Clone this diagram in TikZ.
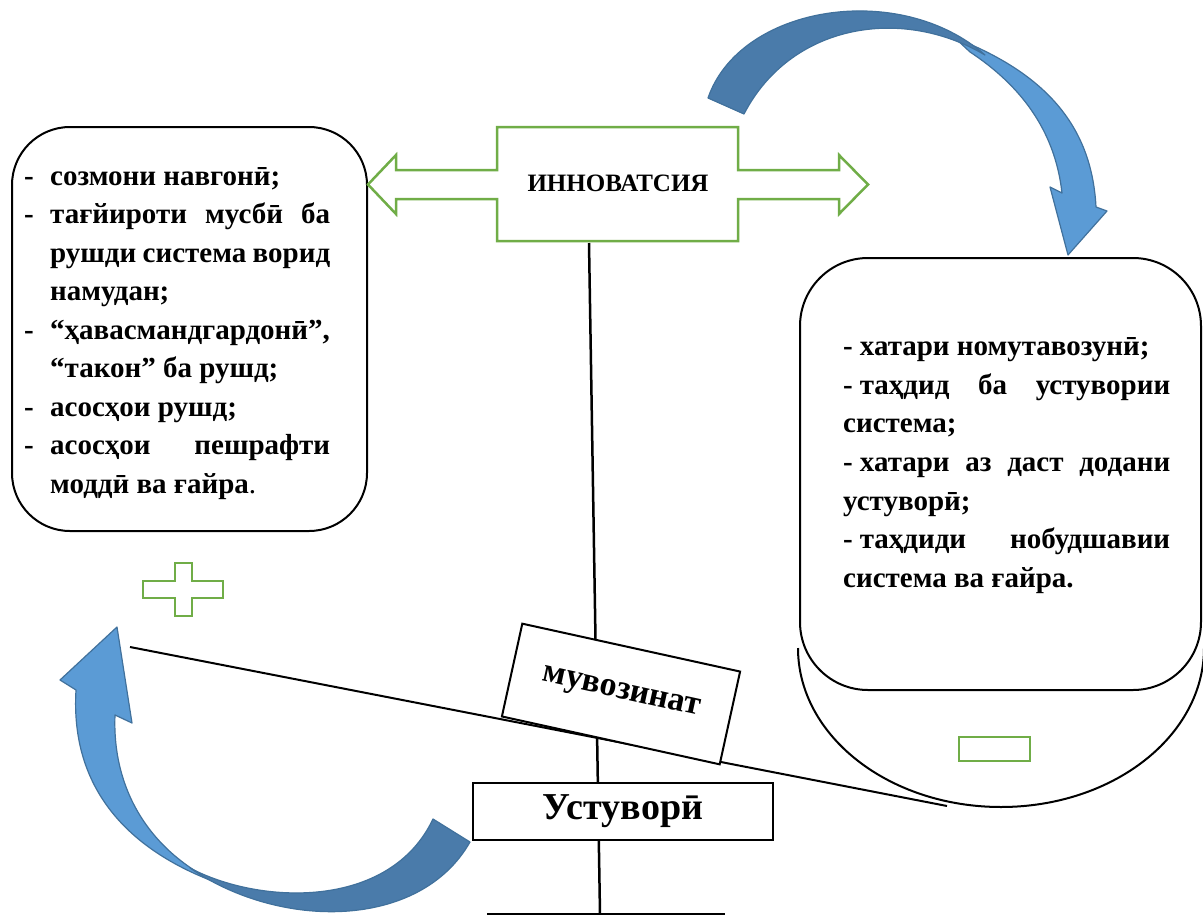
\documentclass[tikz,border=0pt]{standalone}
\usepackage{fontspec}
\setmainfont{Liberation Serif}
\definecolor{grn}{HTML}{70AD47}
\definecolor{lblue}{HTML}{5B9BD5}
\definecolor{dblue}{HTML}{4A7BAA}
\definecolor{bblue}{HTML}{41719C}
\newcommand\bodyfont{\fontsize{29}{38}\selectfont\bfseries}
\newcommand\innfont{\fontsize{25}{30}\selectfont\bfseries}
\newcommand\muvfont{\fontsize{34}{40}\selectfont\bfseries}
\newcommand\ustfont{\fontsize{38}{44}\selectfont\bfseries}
\newcommand\jl[2]{\makebox[#1][s]{#2}}
\newcommand\dsh{-\hspace{7pt}}
\begin{document}
\begin{tikzpicture}[x=1pt,y=-1pt,
  box/.style={draw=black, line width=2pt, fill=white},
  ln/.style={draw=black, line width=2pt},
  post/.style={draw=black, line width=2.5pt},
  grnshape/.style={draw=grn, line width=2.5pt, fill=white},
  light/.style={fill=lblue, draw=bblue, line width=1.2pt, line join=round},
  dark/.style={fill=dblue, draw=bblue, line width=1.2pt, line join=round},
  txt/.style={inner sep=0pt, anchor=base west, font=\bodyfont}]
\useasboundingbox (0,0) rectangle (1203,916);

% coordinates
\coordinate (posttop) at (589,243);
\coordinate (postbot) at (600,914);
\coordinate (baseL) at (487,914);
\coordinate (baseR) at (725,914);
\coordinate (leverL) at (130,647);
\coordinate (leverR) at (947,806);

% post and lever (behind the boxes)
\draw[post] (posttop) -- (postbot);
\draw[post] (baseL) -- (baseR);
\draw[ln] (leverL) -- (leverR);

% cup under the right box
\draw[ln] (798,648) .. controls (798,736) and (889,807) .. (1001,807)
  .. controls (1113,807) and (1204,736) .. (1204,648);

% rounded boxes
\node[box, rounded corners=58pt, minimum width=355pt, minimum height=404pt] (leftbox) at (189.5,329) {};
\node[box, rounded corners=68pt, minimum width=401pt, minimum height=432pt] (rightbox) at (1000.5,474) {};

% innovation double arrow
\draw[grnshape] (497,127) -- (738,127) -- (738,170) -- (839,170) -- (839,155) -- (868,184.5)
  -- (839,214) -- (839,199) -- (738,199) -- (738,241) -- (497,241) -- (497,199)
  -- (396,199) -- (396,214) -- (368,184.5) -- (396,155) -- (396,170) -- (497,170) -- cycle;
\node[inner sep=0pt, anchor=base, font=\innfont] (innov) at (618,191) {ИННОВАТСИЯ};

% plus and minus
\draw[grnshape] (175,563) -- (192,563) -- (192,581) -- (223,581) -- (223,598) -- (192,598)
  -- (192,616) -- (175,616) -- (175,598) -- (143,598) -- (143,581) -- (175,581) -- cycle;
\draw[grnshape] (959,737) rectangle (1030,761);

% balance boxes
\node[box, rotate=-12.4, minimum width=223pt, minimum height=95pt, font=\muvfont] (muv) at (621,694) {мувозинат};
\node[box, minimum width=300pt, minimum height=57pt, font=\ustfont] (ust) at (623,811.5) {Устуворӣ};

% top curved arrow
\draw[light] (955,38) .. controls (1050,75) and (1092,130) .. (1096,207) -- (1107,211) -- (1068,255)
  -- (1050,187) -- (1062,193) .. controls (1055,130) and (1020,85) .. (970,52) -- cycle;
\draw[dark] (708,98) .. controls (740,5) and (900,-20) .. (985,55)
  .. controls (900,5) and (790,25) .. (744,114) -- cycle;

% bottom-left curved arrow
\draw[light] (215,882) .. controls (130,850) and (70,790) .. (76,690) -- (60,680) -- (117,627)
  -- (132,723) -- (115,715) .. controls (112,790) and (150,850) .. (215,882) -- cycle;
\draw[dark] (470,842) .. controls (420,930) and (280,930) .. (190,868)
  .. controls (260,905) and (390,910) .. (433,819) -- cycle;

% left box text
\node[txt] (ld1) at (24,185) {-};
\node[txt] (l1) at (50,185) {созмони навгонӣ;};
\node[txt] (ld2) at (24,223.5) {-};
\node[txt] (l2) at (50,223.5) {\jl{280pt}{тағйироти мусбӣ ба}};
\node[txt] (l3) at (50,262) {\jl{280pt}{рушди система ворид}};
\node[txt] (l4) at (50,300.5) {намудан;};
\node[txt] (ld5) at (24,339) {-};
\node[txt] (l5) at (50,339) {“ҳавасмандгардонӣ”,};
\node[txt] (l6) at (50,377.5) {“такон” ба рушд;};
\node[txt] (ld7) at (24,416) {-};
\node[txt] (l7) at (50,416) {асосҳои рушд;};
\node[txt] (ld8) at (24,454.5) {-};
\node[txt] (l8) at (50,454.5) {\jl{280pt}{асосҳои пешрафти}};
\node[txt] (l9) at (50,493) {моддӣ ва ғайра{\mdseries .}};

% right box text
\node[txt] (r1) at (843,355) {\dsh хатари номутавозунӣ;};
\node[txt] (r2) at (843,394) {\jl{327pt}{\dsh таҳдид ба устувории}};
\node[txt] (r3) at (843,432) {система;};
\node[txt] (r4) at (843,471) {\jl{327pt}{\dsh хатари аз даст додани}};
\node[txt] (r5) at (843,510) {устуворӣ;};
\node[txt] (r6) at (843,548) {\jl{327pt}{\dsh таҳдиди нобудшавии}};
\node[txt] (r7) at (843,587) {система ва ғайра.};
\end{tikzpicture}
\end{document}
